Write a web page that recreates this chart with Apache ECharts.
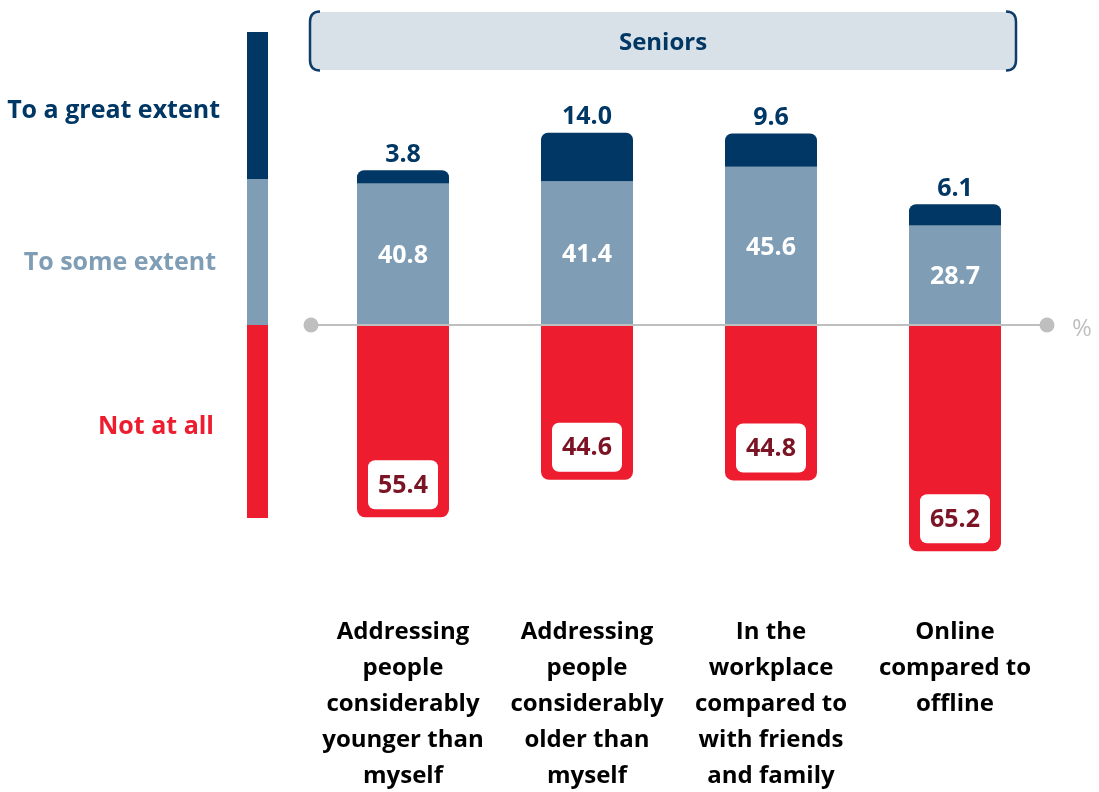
<!DOCTYPE html>
<html>
<head>
<meta charset="utf-8">
<script src="https://cdn.jsdelivr.net/npm/echarts@6/dist/echarts.min.js"></script>
<style>
html,body{margin:0;padding:0;background:#fff;}
#chart{width:1099px;height:792px;}
</style>
</head>
<body>
<div id="chart"></div>
<script>
var categories = [
  'Addressing\npeople\nconsiderably\nyounger than\nmyself',
  'Addressing\npeople\nconsiderably\nolder than\nmyself',
  'In the\nworkplace\ncompared to\nwith friends\nand family',
  'Online\ncompared to\noffline'
];
var greatExtent = [3.8, 14.0, 9.6, 6.1];
var someExtent = [40.8, 41.4, 45.6, 28.7];
var notAtAll = [55.4, 44.6, 44.8, 65.2];
var legendNames = ['To a great extent', 'To some extent', 'Not at all'];
var panelTitle = 'Seniors';

var NAVY = '#003764', GREY = '#7f9db5', RED = '#ed1c2e', DARKRED = '#7b1424';
var FONT = '"Open Sans"';
var BR = '#0e3d6b';

function bracketParts(xv, xe) {
  var st = { stroke: BR, lineWidth: 2.5, fill: null };
  return [
    { type: 'bezierCurve', shape: { x1: xe, y1: 11.5, cpx1: xv, cpy1: 11.5, x2: xv, y2: 22 }, style: st, z: 1 },
    { type: 'line', shape: { x1: xv, y1: 22, x2: xv, y2: 60 }, style: st, z: 1 },
    { type: 'bezierCurve', shape: { x1: xv, y1: 60, cpx1: xv, cpy1: 70.5, x2: xe, y2: 70.5 }, style: st, z: 1 }
  ];
}

var graphics = [
  { type: 'rect', shape: { x: 309, y: 12, width: 706, height: 58, r: 10 }, style: { fill: '#d9e1e8' }, z: 0 },
  { type: 'text', x: 663, y: 43, style: { text: panelTitle, fill: NAVY, font: 'bold 24px ' + FONT, textAlign: 'center', textVerticalAlign: 'middle' }, z: 2 },
  { type: 'rect', shape: { x: 247, y: 32, width: 21, height: 147 }, style: { fill: NAVY } },
  { type: 'rect', shape: { x: 247, y: 179, width: 21, height: 146 }, style: { fill: GREY } },
  { type: 'rect', shape: { x: 247, y: 325, width: 21, height: 193 }, style: { fill: RED } },
  { type: 'text', x: 220, y: 111, style: { text: legendNames[0], fill: NAVY, font: 'bold 25px ' + FONT, textAlign: 'right', textVerticalAlign: 'middle' } },
  { type: 'text', x: 216, y: 263, style: { text: legendNames[1], fill: GREY, font: 'bold 25px ' + FONT, textAlign: 'right', textVerticalAlign: 'middle' } },
  { type: 'text', x: 214, y: 427, style: { text: legendNames[2], fill: RED, font: 'bold 25px ' + FONT, textAlign: 'right', textVerticalAlign: 'middle' } },
  { type: 'text', x: 1082, y: 329, style: { text: '%', fill: '#bfbfbf', font: '24px ' + FONT, textAlign: 'center', textVerticalAlign: 'middle' } }
].concat(bracketParts(310, 320)).concat(bracketParts(1016, 1006));

var chart = echarts.init(document.getElementById('chart'));
chart.setOption({
  animation: false,
  textStyle: { fontFamily: FONT },
  grid: { left: 311, right: 52, top: 116.8, bottom: 189.4, outerBoundsMode: 'none', containLabel: false },
  xAxis: {
    type: 'category',
    data: categories,
    position: 'bottom',
    axisLine: { show: false, onZero: false },
    axisTick: { show: false },
    axisLabel: {
      margin: 12, interval: 0, color: '#000', fontFamily: FONT,
      fontWeight: 'bold', fontSize: 24, lineHeight: 36, verticalAlign: 'top'
    }
  },
  yAxis: {
    type: 'value', min: -80, max: 60,
    show: false, splitLine: { show: false }
  },
  series: [
    {
      name: legendNames[2], type: 'bar', stack: 's', barWidth: 92,
      data: notAtAll.map(function (v) { return -v; }),
      itemStyle: { color: RED, borderRadius: [0, 0, 8, 8] },
      label: {
        show: true, position: 'insideBottom', distance: 8,
        formatter: function (p) { return Math.abs(p.value).toFixed(1); },
        backgroundColor: '#fff', borderRadius: 7, padding: [13, 10, 11, 10],
        color: DARKRED, fontWeight: 'bold', fontSize: 25, lineHeight: 25, fontFamily: FONT
      },
      markLine: {
        silent: true, symbol: ['circle', 'circle'], symbolSize: 15,
        label: { show: false },
        lineStyle: { color: '#bfbfbf', width: 2, type: 'solid' },
        itemStyle: { color: '#bfbfbf' },
        data: [{ yAxis: 0 }],
        z: 10
      }
    },
    {
      name: legendNames[1], type: 'bar', stack: 's', barWidth: 92,
      data: someExtent,
      itemStyle: { color: GREY },
      label: {
        show: true, position: 'inside', offset: [0, 2],
        formatter: function (p) { return p.value.toFixed(1); },
        color: '#fff', fontWeight: 'bold', fontSize: 25, fontFamily: FONT
      }
    },
    {
      name: legendNames[0], type: 'bar', stack: 's', barWidth: 92,
      data: greatExtent,
      itemStyle: { color: NAVY, borderRadius: [7, 7, 0, 0] },
      label: {
        show: true, position: 'top', distance: 4, offset: [0, 1],
        formatter: function (p) { return p.value.toFixed(1); },
        color: NAVY, fontWeight: 'bold', fontSize: 25, fontFamily: FONT
      }
    }
  ],
  graphic: graphics
});
</script>
</body>
</html>
